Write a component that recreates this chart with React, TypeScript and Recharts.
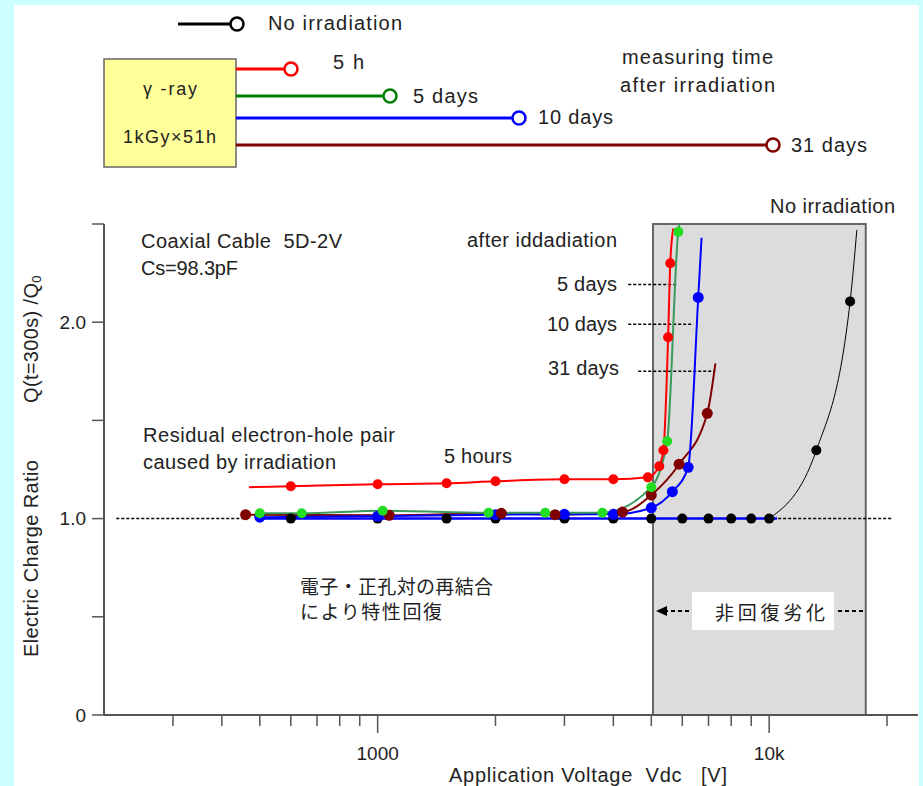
import React from 'react';
import { ComposedChart, Line, XAxis, YAxis, ReferenceArea, ReferenceLine } from 'recharts';

if (typeof document !== 'undefined') {
  document.body.style.margin = '0';
}

// ---------- data (Application voltage [V], charge ratio Q/Q0) ----------
const X_TICKS = [300, 400, 500, 600, 700, 800, 900, 1000, 2000, 3000, 4000, 5000, 6000, 7000, 8000, 9000, 10000, 20000];
const X_LABELS: Record<number, string> = { 1000: '1000', 10000: '10k' };
const Y_TICKS = [0, 0.5, 1, 1.5, 2, 2.5];
const Y_LABELS: Record<number, string> = { 0: '0', 1: '1.0', 2: '2.0' };

// 5 hours after irradiation (red)
const redPts = [
  { v: 600, q: 1.165 }, { v: 1000, q: 1.175 }, { v: 1500, q: 1.18 }, { v: 2000, q: 1.19 },
  { v: 3000, q: 1.2 }, { v: 4000, q: 1.2 }, { v: 4900, q: 1.21 }, { v: 5240, q: 1.267 },
  { v: 5370, q: 1.348 }, { v: 5520, q: 1.923 }, { v: 5590, q: 2.3 },
];
const redStart = { v: 469, q: 1.16 };
const redEnd = { v: 5690, q: 2.477 };

// 5 days (green)
const greenPts = [
  { v: 500, q: 1.027 }, { v: 640, q: 1.027 }, { v: 1030, q: 1.04 }, { v: 1920, q: 1.03 },
  { v: 2680, q: 1.03 }, { v: 3750, q: 1.03 }, { v: 5000, q: 1.16 }, { v: 5490, q: 1.394 },
  { v: 5860, q: 2.46 },
];
const greenStart = { v: 490, q: 1.027 };
const greenEnd = { v: 5900, q: 2.5 };

// 10 days (blue)
const bluePts = [
  { v: 500, q: 1.007 }, { v: 1000, q: 1.012 }, { v: 2000, q: 1.02 }, { v: 3000, q: 1.022 },
  { v: 4000, q: 1.022 }, { v: 5000, q: 1.055 }, { v: 5660, q: 1.137 }, { v: 6210, q: 1.261 },
  { v: 6590, q: 2.126 },
];
const blueStart = { v: 490, q: 1.007 };
const blueEnd = { v: 6720, q: 2.43 };

// 31 days (maroon)
const maroonPts = [
  { v: 460, q: 1.02 }, { v: 1070, q: 1.017 }, { v: 2070, q: 1.027 }, { v: 2840, q: 1.02 },
  { v: 4220, q: 1.033 }, { v: 5000, q: 1.12 }, { v: 5890, q: 1.277 }, { v: 6950, q: 1.536 },
];
const maroonEnd = { v: 7290, q: 1.79 };

// No irradiation (black)
const blackFlatPts = [
  { v: 600, q: 1.0 }, { v: 1000, q: 1.0 }, { v: 1500, q: 1.0 }, { v: 2000, q: 1.0 },
  { v: 3000, q: 1.0 }, { v: 4000, q: 1.0 }, { v: 5000, q: 1.0 }, { v: 6000, q: 1.0 },
  { v: 7000, q: 1.0 }, { v: 8000, q: 1.0 }, { v: 9000, q: 1.0 }, { v: 10000, q: 1.0 },
];
const blackRisePts = [{ v: 13200, q: 1.348 }, { v: 16100, q: 2.106 }];
const blackEnd = { v: 16750, q: 2.47 };
const baselineLine = [{ v: 490, q: 1.0 }, { v: 10480, q: 1.0 }];

// dotted reference at Q/Q0 = 1
const dottedLeft = [{ x: 215, y: 1 }, { x: 460, y: 1 }];
const dottedRight = [{ x: 10240, y: 1 }, { x: 20700, y: 1 }];
// short dashed label leaders
const lead5d = [{ x: 4365, y: 2.192 }, { x: 5820, y: 2.192 }];
const lead10d = [{ x: 4365, y: 1.989 }, { x: 6400, y: 1.989 }];
const lead31d = [{ x: 4630, y: 1.75 }, { x: 7280, y: 1.75 }];

// non-recoverable degradation region
const greyRegion = { x1: 5050, x2: 17650, y1: 0, y2: 2.5 };

const redCurve = [redStart, ...redPts, redEnd];
const greenCurve = [greenStart, ...greenPts, greenEnd];
const blueCurve = [blueStart, ...bluePts, blueEnd];
const maroonCurve = [...maroonPts, maroonEnd];
const blackCurve = [blackFlatPts[blackFlatPts.length - 1], ...blackRisePts, blackEnd];
const blackPts = [...blackFlatPts, ...blackRisePts];

// ---------- styling ----------
const LATIN = "'Liberation Sans', Arial, sans-serif";
const CJK = "'Noto Sans CJK JP', 'Noto Sans CJK SC', sans-serif";
const TXT = '#222';
const RED = '#ff0000';
const GREEN_LINE = '#3a9a5c';
const GREEN_DOT = '#22dd22';
const BLUE = '#0000ff';
const MAROON = '#800000';

const XTick = (props: any) => {
  const { x, y, payload } = props;
  const v = payload.value;
  const label = X_LABELS[v];
  return (
    <g>
      <line x1={x} x2={x} y1={y} y2={y + (label ? 18 : 11)} stroke="#555" strokeWidth={1.5} />
      {label && (
        <text x={x} y={y + 38} textAnchor="middle" dominantBaseline="central" fontSize={19} fill={TXT} fontFamily={LATIN}>
          {label}
        </text>
      )}
    </g>
  );
};

const YTick = (props: any) => {
  const { x, y, payload } = props;
  const v = payload.value;
  const label = Y_LABELS[v];
  return (
    <g>
      <line x1={x - 12} x2={x} y1={y} y2={y} stroke="#555" strokeWidth={1.5} />
      {label !== undefined && (
        <text x={x - 18} y={y} textAnchor="end" dominantBaseline="central" fontSize={19} fill={TXT} fontFamily={LATIN}>
          {label}
        </text>
      )}
    </g>
  );
};

const T = (p: { x: number; y: number; children: React.ReactNode; anchor?: string; size?: number; font?: string; w?: number }) => (
  <text
    x={p.x}
    y={p.y}
    textAnchor={(p.anchor as any) || 'start'}
    dominantBaseline="central"
    fontSize={p.size || 20}
    fontFamily={p.font || LATIN}
    fill={TXT}
    textLength={p.w}
    lengthAdjust={p.w ? 'spacing' : undefined}
    style={{ whiteSpace: 'pre' }}
  >
    {p.children}
  </text>
);

const LegendRow = ({ x1, x2, y, color }: { x1: number; x2: number; y: number; color: string }) => (
  <g>
    <line x1={x1} x2={x2} y1={y} y2={y} stroke={color} strokeWidth={3} />
    <circle cx={x2 + 7} cy={y} r={6.5} fill="#fff" stroke={color} strokeWidth={2.5} />
  </g>
);

const Overlay = () => (
  <svg width={923} height={786} style={{ position: 'absolute', left: 0, top: 0, pointerEvents: 'none' }}>
    {/* top legend diagram */}
    <LegendRow x1={178} x2={230} y={24} color="#000" />
    <T x={268} y={23} w={134}>No irradiation</T>
    <rect x={104} y={59} width={132} height={108} fill="#ffff99" stroke="#666" strokeWidth={1.5} />
    <T x={143} y={89} size={18} w={54}>γ -ray</T>
    <T x={123} y={137} size={18} w={93}>1kGy×51h</T>
    <LegendRow x1={236} x2={284} y={69} color={RED} />
    <LegendRow x1={236} x2={383} y={96} color="#008000" />
    <LegendRow x1={236} x2={512} y={118} color={BLUE} />
    <LegendRow x1={236} x2={766} y={145} color={MAROON} />
    <T x={333} y={62} w={31}>5 h</T>
    <T x={413} y={96} w={65}>5 days</T>
    <T x={538} y={117} w={75}>10 days</T>
    <T x={791} y={145} w={76}>31 days</T>
    <T x={622} y={57} w={151}>measuring time</T>
    <T x={620} y={85} w={155}>after irradiation</T>

    {/* plot annotations */}
    <T x={141} y={241} w={201}>{'Coaxial Cable  5D-2V'}</T>
    <T x={141} y={268} w={97}>Cs=98.3pF</T>
    <T x={143} y={435} w={252}>Residual electron-hole pair</T>
    <T x={143} y={462} w={193}>caused by irradiation</T>
    <T x={444} y={456} w={68}>5 hours</T>
    <T x={467} y={240} w={150}>after iddadiation</T>
    <T x={557} y={284} w={60}>5 days</T>
    <T x={547} y={324} w={70}>10 days</T>
    <T x={548} y={368} w={71}>31 days</T>
    <T x={770} y={206} w={125}>No irradiation</T>
    <T x={300} y={585} font={CJK} size={19} w={193}>電子・正孔対の再結合</T>
    <T x={300} y={610} font={CJK} size={19} w={142}>により特性回復</T>

    <rect x={692} y={592} width={142} height={38} fill="#fff" />
    <T x={715} y={611} font={CJK} size={19} w={110}>非回復劣化</T>
    <line x1={664} x2={690} y1={611} y2={611} stroke="#000" strokeWidth={2} strokeDasharray="4 3" />
    <path d="M656,611 L667,606 L667,616 Z" fill="#000" />
    <line x1={838} x2={865} y1={611} y2={611} stroke="#000" strokeWidth={2} strokeDasharray="4 3" />

    {/* axis titles */}
    <text transform="translate(31,657) rotate(-90)" dominantBaseline="central" fontSize={20} fontFamily={LATIN} fill={TXT} textLength={197} lengthAdjust="spacing">
      Electric Charge Ratio
    </text>
    <text transform="translate(31,403) rotate(-90)" dominantBaseline="central" fontSize={20} fontFamily={LATIN} fill={TXT}>
      <tspan textLength={120} lengthAdjust="spacing">Q(t=300s) /Q</tspan>
      <tspan fontSize={13} dy={5}>0</tspan>
    </text>
    <T x={449} y={775} w={278}>{'Application Voltage  Vdc   [V]'}</T>
  </svg>
);

const dotStyle = (fill: string, r = 5) => ({ r, fill, stroke: fill, strokeWidth: 0 });

export default function App() {
  return (
    <div style={{ position: 'relative', width: 923, height: 786, background: '#ccffff', overflow: 'hidden' }}>
      <div style={{ position: 'absolute', left: 14, top: 5, width: 905, height: 781, background: '#fff' }} />
      <div style={{ position: 'absolute', left: 0, top: 0 }}>
        <ComposedChart width={923} height={786} margin={{ top: 224, right: 5, bottom: 31, left: 44 }}>
          <XAxis
            dataKey="v"
            type="number"
            scale="log"
            domain={[200, 24000]}
            allowDataOverflow
            ticks={X_TICKS}
            tick={<XTick />}
            tickLine={false}
            tickSize={0}
            tickMargin={0}
            interval={0}
            height={40}
            axisLine={{ stroke: '#555', strokeWidth: 2 }}
          />
          <YAxis
            dataKey="q"
            type="number"
            domain={[0, 2.5]}
            allowDataOverflow
            ticks={Y_TICKS}
            tick={<YTick />}
            tickLine={false}
            tickSize={0}
            tickMargin={0}
            interval={0}
            width={60}
            axisLine={{ stroke: '#555', strokeWidth: 2 }}
          />
          <ReferenceArea
            x1={greyRegion.x1}
            x2={greyRegion.x2}
            y1={greyRegion.y1}
            y2={greyRegion.y2}
            fill="#dcdcdc"
            fillOpacity={1}
            stroke="#666"
            strokeWidth={2}
            ifOverflow="visible"
          />
          <ReferenceLine segment={dottedLeft} stroke="#000" strokeWidth={1.5} strokeDasharray="3 2" />
          <ReferenceLine segment={dottedRight} stroke="#000" strokeWidth={1.5} strokeDasharray="3 2" />
          <ReferenceLine segment={lead5d} stroke="#000" strokeWidth={1.5} strokeDasharray="3 2" />
          <ReferenceLine segment={lead10d} stroke="#000" strokeWidth={1.5} strokeDasharray="3 2" />
          <ReferenceLine segment={lead31d} stroke="#000" strokeWidth={1.5} strokeDasharray="3 2" />

          <Line data={baselineLine} dataKey="q" type="linear" stroke={BLUE} strokeWidth={2.5} dot={false} activeDot={false} isAnimationActive={false} />
          <Line data={blackCurve} dataKey="q" type="monotone" stroke="#000" strokeWidth={1} dot={false} activeDot={false} isAnimationActive={false} />
          <Line data={maroonCurve} dataKey="q" type="monotone" stroke={MAROON} strokeWidth={2} dot={false} activeDot={false} isAnimationActive={false} />
          <Line data={blueCurve} dataKey="q" type="monotone" stroke={BLUE} strokeWidth={2} dot={false} activeDot={false} isAnimationActive={false} />
          <Line data={greenCurve} dataKey="q" type="monotone" stroke={GREEN_LINE} strokeWidth={2} dot={false} activeDot={false} isAnimationActive={false} />
          <Line data={redCurve} dataKey="q" type="monotone" stroke={RED} strokeWidth={2} dot={false} activeDot={false} isAnimationActive={false} />

          <Line data={blackPts} dataKey="q" stroke="none" dot={dotStyle('#000')} activeDot={false} isAnimationActive={false} />
          <Line data={bluePts} dataKey="q" stroke="none" dot={dotStyle(BLUE, 5.5)} activeDot={false} isAnimationActive={false} />
          <Line data={maroonPts} dataKey="q" stroke="none" dot={dotStyle(MAROON, 5.5)} activeDot={false} isAnimationActive={false} />
          <Line data={greenPts} dataKey="q" stroke="none" dot={dotStyle(GREEN_DOT, 5)} activeDot={false} isAnimationActive={false} />
          <Line data={redPts} dataKey="q" stroke="none" dot={dotStyle(RED, 5)} activeDot={false} isAnimationActive={false} />
        </ComposedChart>
      </div>
      <Overlay />
    </div>
  );
}
